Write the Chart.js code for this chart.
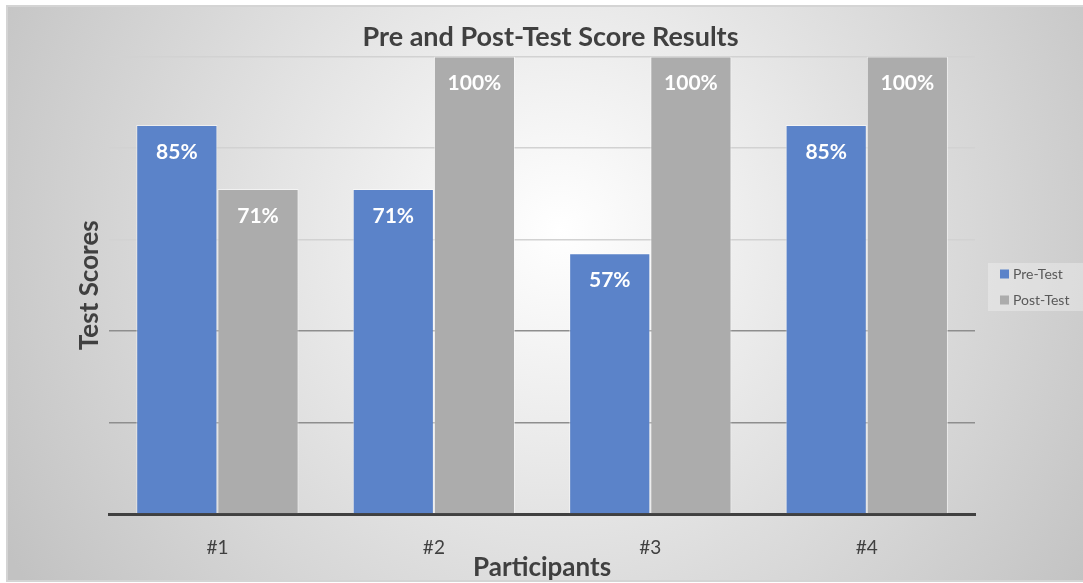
<!DOCTYPE html>
<html>
<head>
<meta charset="utf-8">
<script src="https://cdn.jsdelivr.net/npm/chart.js@4"></script>
<style>
  html, body { margin: 0; padding: 0; background: #fff; }
  #wrap { width: 1083px; height: 583px; }
</style>
</head>
<body>
<div id="wrap"><canvas id="myChart" width="1083" height="583"></canvas></div>
<script>
const participants = ['#1', '#2', '#3', '#4']
const preTest = [85, 71, 57, 85]
const postTest = [71, 100, 100, 100]
const yTicks = [0, 20, 40, 60, 80, 100]

// background panel
const bgPlugin = {
  id: 'bgPanel',
  beforeDraw(chart) {
    const c = chart.ctx
    c.save()
    c.fillStyle = '#ffffff'
    c.fillRect(0, 0, chart.width, chart.height)
    const g = c.createRadialGradient(560, 230, 0, 560, 230, 640)
    g.addColorStop(0, '#ffffff')
    g.addColorStop(1, '#c2c2c2')
    c.fillStyle = g
    c.fillRect(7, 6, chart.width - 7, chart.height - 9)
    c.strokeStyle = '#d4d4d4'
    c.lineWidth = 2
    c.strokeRect(7, 6, chart.width - 6, chart.height - 8)
    c.restore()
  }
}

// legend on the right, drawn by hand so it sits where the original does
const sideLegend = {
  id: 'sideLegend',
  afterDraw(chart) {
    const c = chart.ctx
    const x = chart.chartArea.right + 13
    const y = 263
    c.save()
    c.fillStyle = 'rgba(255,255,255,0.3)'
    c.fillRect(x, y, 1083 - x, 48)
    c.font = '14px Lato'
    c.textBaseline = 'middle'
    chart.data.datasets.forEach((ds, i) => {
      const cy = y + 11 + i * 26
      c.fillStyle = ds.backgroundColor
      c.fillRect(x + 12, cy - 4.5, 9, 9)
      c.fillStyle = '#595959'
      c.fillText(ds.label, x + 25, cy)
    })
    c.restore()
  }
}

// value labels inside the bars
const valueLabels = {
  id: 'valueLabels',
  afterDatasetsDraw(chart) {
    const c = chart.ctx
    c.save()
    c.font = 'bold 21px Lato'
    c.fillStyle = '#ffffff'
    c.textAlign = 'center'
    c.textBaseline = 'middle'
    chart.data.datasets.forEach((ds, i) => {
      chart.getDatasetMeta(i).data.forEach((bar, j) => {
        c.fillText(ds.data[j] + '%', bar.x, bar.y + 27)
      })
    })
    c.restore()
  }
}

const ctx = document.getElementById('myChart')
new Chart(ctx, {
  type: 'bar',
  data: {
    labels: participants,
    datasets: [
      {
        label: 'Pre-Test',
        data: preTest,
        backgroundColor: '#5b83c9',
        borderColor: 'rgba(255,255,255,0.55)',
        borderWidth: 1,
        categoryPercentage: 0.75,
        barPercentage: 1.0
      },
      {
        label: 'Post-Test',
        data: postTest,
        backgroundColor: '#acacac',
        borderColor: 'rgba(255,255,255,0.55)',
        borderWidth: 1,
        categoryPercentage: 0.75,
        barPercentage: 1.0
      }
    ]
  },
  options: {
    responsive: false,
    animation: false,
    layout: { padding: { left: 18, right: 0, top: 0, bottom: 0 } },
    plugins: {
      title: {
        display: true,
        text: 'Pre and Post-Test Score Results',
        color: '#404040',
        font: { family: 'Lato', size: 27, weight: 'bold' },
        padding: { top: 21, bottom: 3 }
      },
      legend: { display: false },
      tooltip: { enabled: false }
    },
    scales: {
      x: {
        afterFit(scale) { scale.height = 69 },
        grid: { display: false, drawTicks: false },
        border: { display: true, color: '#404040', width: 3 },
        ticks: { color: '#404040', font: { family: 'Lato', size: 19 }, padding: 22 },
        title: {
          display: true,
          text: 'Participants',
          color: '#404040',
          font: { family: 'Lato', size: 26, weight: 'bold' },
          padding: { top: 0, bottom: 0 }
        }
      },
      y: {
        min: 0,
        max: 100,
        afterBuildTicks(scale) {
          scale.ticks = yTicks.map(v => ({ value: v }))
        },
        grid: {
          drawTicks: false,
          color: c => (c.tick && c.tick.value <= 40 ? '#8e8e8e' : '#d2d2d2'),
          lineWidth: 1.5
        },
        border: { display: false },
        ticks: { display: false },
        title: {
          display: true,
          text: 'Test Scores',
          color: '#404040',
          font: { family: 'Lato', size: 26, weight: 'bold' },
          padding: { top: 56, bottom: 4 }
        }
      },
      // empty right axis that keeps room for the legend
      yRight: {
        position: 'right',
        min: 0,
        max: 100,
        afterFit(scale) { scale.width = 108 },
        grid: { display: false, drawTicks: false },
        border: { display: false },
        ticks: { display: false }
      }
    }
  },
  plugins: [bgPlugin, valueLabels, sideLegend]
})
</script>
</body>
</html>
